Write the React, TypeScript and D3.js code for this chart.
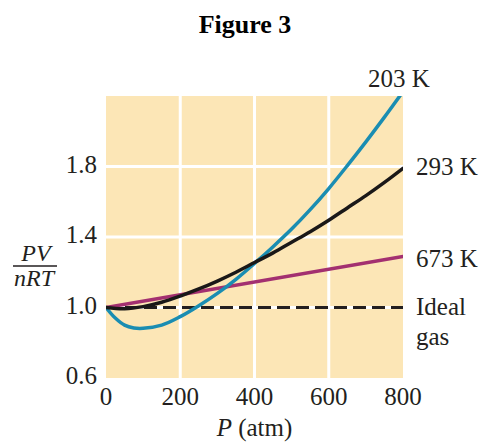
import { useRef, useEffect } from 'react';
import * as d3 from 'd3';

const xTicks = [0, 200, 400, 600, 800];
const yTicks = [0.6, 1.0, 1.4, 1.8];
const gridX = [200, 400, 600];
const gridY = [1.0, 1.4, 1.8];

// PV/nRT vs P
const pressure203 = [0, 25, 50, 75, 100, 150, 200, 250, 300, 350, 400, 450, 500, 550, 600, 650, 700, 750, 800];
const z203 = [1.0, 0.94, 0.9, 0.884, 0.882, 0.9, 0.948, 1.01, 1.08, 1.16, 1.25, 1.345, 1.445, 1.555, 1.675, 1.805, 1.94, 2.08, 2.225];
const pressure293 = [0, 50, 100, 150, 200, 250, 300, 350, 400, 450, 500, 550, 600, 650, 700, 750, 800];
const z293 = [1.0, 0.993, 1.005, 1.03, 1.065, 1.105, 1.15, 1.2, 1.255, 1.31, 1.37, 1.43, 1.495, 1.565, 1.635, 1.71, 1.79];
const pressure673 = [0, 800];
const z673 = [1.0, 1.29];
const pressureIdeal = [0, 800];
const zIdeal = [1.0, 1.0];

const FONT = '"Liberation Serif", "Times New Roman", serif';

export default function App() {
  const svgRef = useRef<SVGSVGElement>(null);

  useEffect(() => {
    if (!svgRef.current) return;
    const width = 482;
    const height = 443;
    const margin = { top: 96, right: 79, bottom: 65, left: 106 };

    const svg = d3.select(svgRef.current);
    svg.selectAll('*').remove();
    svg.attr('width', width).attr('height', height);

    const x = d3.scaleLinear().domain([0, 800]).range([margin.left, width - margin.right]);
    const y = d3.scaleLinear().domain([0.6, 2.2]).range([height - margin.bottom, margin.top]);

    svg.append('defs').append('clipPath').attr('id', 'plot-clip')
      .append('rect')
      .attr('x', x(0)).attr('y', y(2.2))
      .attr('width', x(800) - x(0)).attr('height', y(0.6) - y(2.2));

    // Background
    svg.append('rect')
      .attr('x', x(0)).attr('y', y(2.2))
      .attr('width', x(800) - x(0)).attr('height', y(0.6) - y(2.2))
      .attr('fill', '#fce6b6');

    // Grid
    svg.append('g').selectAll('line').data(gridX).join('line')
      .attr('x1', d => x(d)).attr('x2', d => x(d))
      .attr('y1', y(2.2)).attr('y2', y(0.6))
      .attr('stroke', '#fff').attr('stroke-width', 3);
    svg.append('g').selectAll('line').data(gridY).join('line')
      .attr('x1', x(0)).attr('x2', x(800))
      .attr('y1', d => y(d)).attr('y2', d => y(d))
      .attr('stroke', '#fff').attr('stroke-width', 3);

    const line = d3.line<[number, number]>()
      .x(d => x(d[0]))
      .y(d => y(d[1]))
      .curve(d3.curveCatmullRom.alpha(0.5));

    const curves = svg.append('g').attr('clip-path', 'url(#plot-clip)');

    curves.append('path')
      .datum(pressureIdeal.map((p, i) => [p, zIdeal[i]] as [number, number]))
      .attr('d', line)
      .attr('fill', 'none')
      .attr('stroke', '#231f20')
      .attr('stroke-width', 3)
      .attr('stroke-dasharray', '13,6');

    const series = [
      { p: pressure673, z: z673, color: '#a33070' },
      { p: pressure203, z: z203, color: '#1a8db2' },
      { p: pressure293, z: z293, color: '#1a1818' },
    ];
    series.forEach(s => {
      curves.append('path')
        .datum(s.p.map((p, i) => [p, s.z[i]] as [number, number]))
        .attr('d', line)
        .attr('fill', 'none')
        .attr('stroke', s.color)
        .attr('stroke-width', 3.5)
        .attr('stroke-linecap', 'round');
    });

    // Tick labels
    svg.append('g').selectAll('text').data(yTicks).join('text')
      .attr('x', margin.left - 9)
      .attr('y', d => y(d) + 6)
      .attr('text-anchor', 'end')
      .attr('font-family', FONT)
      .attr('font-size', 25)
      .attr('fill', '#231f20')
      .text(d => d.toFixed(1));

    svg.append('g').selectAll('text').data(xTicks).join('text')
      .attr('x', d => x(d))
      .attr('y', y(0.6) + 27)
      .attr('text-anchor', 'middle')
      .attr('font-family', FONT)
      .attr('font-size', 25)
      .attr('fill', '#231f20')
      .text(d => String(d));

    const xLabel = svg.append('text')
      .attr('x', (x(0) + x(800)) / 2)
      .attr('y', 436)
      .attr('text-anchor', 'middle')
      .attr('font-family', FONT)
      .attr('font-size', 25)
      .attr('fill', '#231f20');
    xLabel.append('tspan').attr('font-style', 'italic').text('P');
    xLabel.append('tspan').text(' (atm)');

    // PV / nRT
    svg.append('text')
      .attr('x', 36).attr('y', 261)
      .attr('text-anchor', 'middle')
      .attr('font-family', FONT).attr('font-size', 24).attr('font-style', 'italic')
      .attr('fill', '#231f20')
      .text('PV');
    svg.append('line')
      .attr('x1', 13).attr('x2', 57).attr('y1', 266).attr('y2', 266)
      .attr('stroke', '#231f20').attr('stroke-width', 1.5);
    svg.append('text')
      .attr('x', 34).attr('y', 286)
      .attr('text-anchor', 'middle')
      .attr('font-family', FONT).attr('font-size', 24).attr('font-style', 'italic')
      .attr('fill', '#231f20')
      .text('nRT');

    // Series labels
    const labels = [
      { text: '203 K', x: 368, y: 87 },
      { text: '293 K', x: 416, y: 175 },
      { text: '673 K', x: 416, y: 267 },
      { text: 'Ideal', x: 416, y: 315 },
      { text: 'gas', x: 416, y: 345 },
    ];
    svg.append('g').selectAll('text').data(labels).join('text')
      .attr('x', d => d.x).attr('y', d => d.y)
      .attr('font-family', FONT).attr('font-size', 25)
      .attr('fill', '#231f20')
      .text(d => d.text);

    // Title
    svg.append('text')
      .attr('x', 245).attr('y', 33)
      .attr('text-anchor', 'middle')
      .attr('font-family', FONT).attr('font-size', 26).attr('font-weight', 'bold')
      .attr('fill', '#000')
      .text('Figure 3');
  }, []);

  return <svg ref={svgRef} style={{ position: 'absolute', left: 0, top: 0 }} />;
}
